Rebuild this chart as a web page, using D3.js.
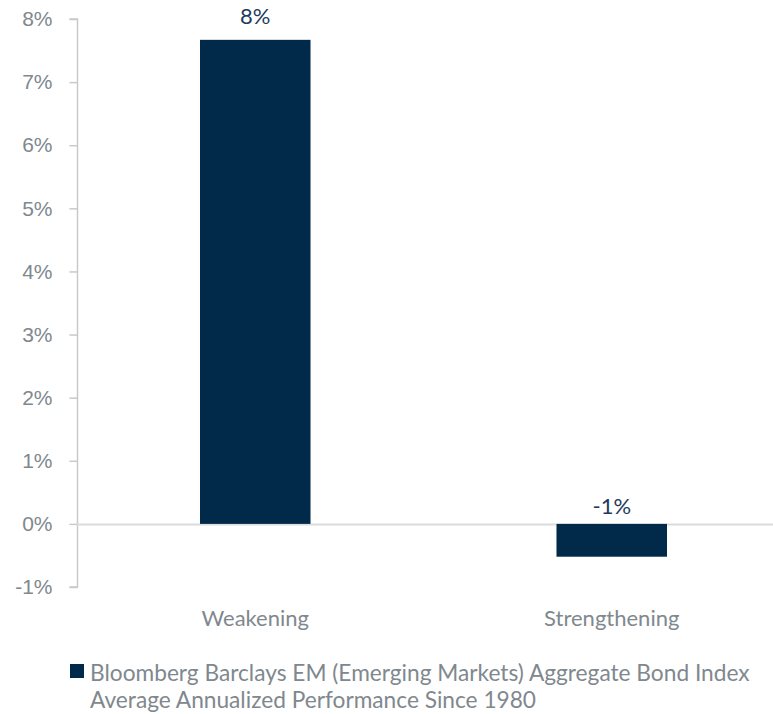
<!DOCTYPE html>
<html>
<head>
<meta charset="utf-8">
<script src="https://cdn.jsdelivr.net/npm/d3@7"></script>
<style>
  body { margin: 0; background: #fff; }
  svg { display: block; }
</style>
</head>
<body>
<script>
// data
const categories = ["Weakening", "Strengthening"];
const values = [7.67, -0.52];
const valueLabels = ["8%", "-1%"];
const yTicks = [-1, 0, 1, 2, 3, 4, 5, 6, 7, 8];
const legendLines = [
  "Bloomberg Barclays EM (Emerging Markets) Aggregate Bond Index",
  "Average Annualized Performance Since 1980"
];

const width = 773;
const height = 714;
const barColor = "#00294a";
const textFont = "'Source Sans Pro', Lato, 'Open Sans', sans-serif";

const svg = d3.select("body").append("svg")
  .attr("width", width)
  .attr("height", height);

const x = d3.scaleBand()
  .domain(categories)
  .range([77, 790])
  .paddingInner(0.69)
  .paddingOuter(0.345);

const y = d3.scaleLinear()
  .domain([-1, 8])
  .range([587, 19]);

// y axis
const yAxis = svg.append("g")
  .attr("transform", "translate(77.5,0)")
  .call(d3.axisLeft(y).tickValues(yTicks).tickSize(8).tickPadding(17)
    .tickFormat(d => d + "%"));
yAxis.selectAll("path, line").attr("stroke", "#c9c9c9").attr("stroke-width", 1.5);
yAxis.select(".domain").attr("d", `M-8,${y(8)}H0V${y(-1)}H-8`);
yAxis.selectAll("text")
  .attr("fill", "#80888e")
  .style("font-family", "'Liberation Sans', Arial, sans-serif")
  .style("font-size", "21px");

// zero line
svg.append("line")
  .attr("x1", 77).attr("x2", width)
  .attr("y1", y(0) + 0.5).attr("y2", y(0) + 0.5)
  .attr("stroke", "#dcdcdc")
  .attr("stroke-width", 2);

// bars
svg.append("g").selectAll("rect")
  .data(values)
  .join("rect")
  .attr("x", (d, i) => x(categories[i]))
  .attr("width", x.bandwidth())
  .attr("y", d => y(Math.max(0, d)))
  .attr("height", d => Math.abs(y(d) - y(0)))
  .attr("fill", barColor);

// data labels
svg.append("g").selectAll("text")
  .data(values)
  .join("text")
  .attr("x", (d, i) => x(categories[i]) + x.bandwidth() / 2)
  .attr("y", d => d >= 0 ? y(d) - 16 : y(0) - 10)
  .attr("text-anchor", "middle")
  .attr("fill", "#1d3b5c")
  .style("font-family", textFont)
  .style("font-size", "22px")
  .text((d, i) => valueLabels[i]);

// category labels
svg.append("g").selectAll("text")
  .data(categories)
  .join("text")
  .attr("x", d => x(d) + x.bandwidth() / 2)
  .attr("y", 626)
  .attr("text-anchor", "middle")
  .attr("fill", "#80888e")
  .style("font-family", textFont)
  .style("font-size", "22px")
  .text(d => d);

// legend
svg.append("rect")
  .attr("x", 70).attr("y", 664)
  .attr("width", 14).attr("height", 14)
  .attr("fill", barColor);

svg.append("g").selectAll("text")
  .data(legendLines)
  .join("text")
  .attr("x", 90)
  .attr("y", (d, i) => 681 + i * 27)
  .attr("fill", "#80888e")
  .style("font-family", textFont)
  .style("font-size", "22.7px")
  .text(d => d);
</script>
</body>
</html>
